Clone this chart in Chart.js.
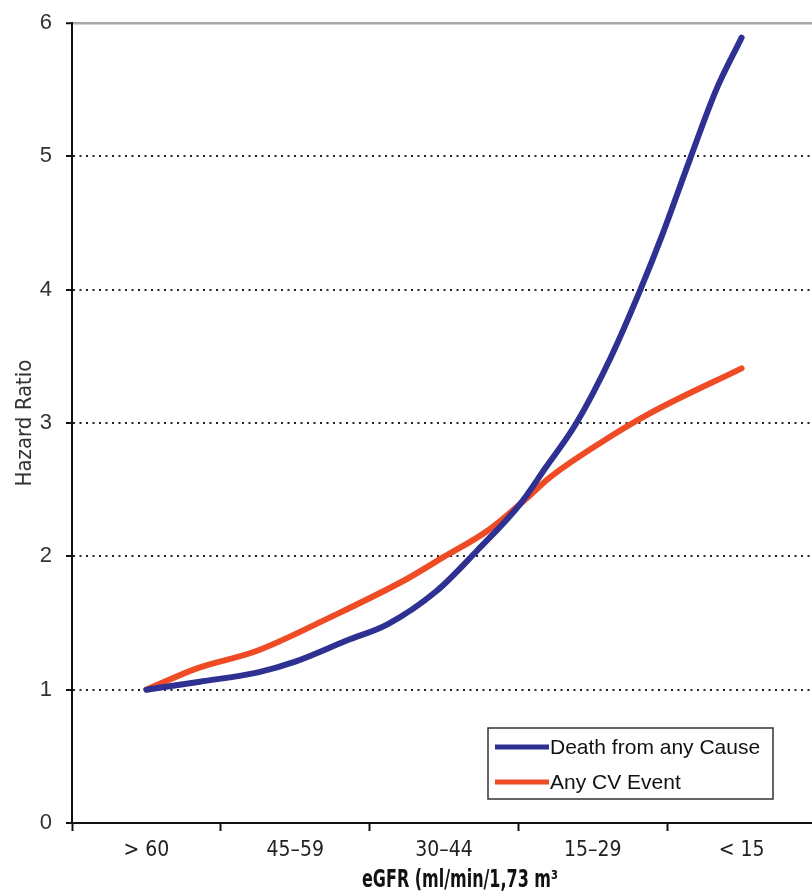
<!DOCTYPE html>
<html><head><meta charset="utf-8">
<script src="https://cdn.jsdelivr.net/npm/chart.js@4/dist/chart.umd.min.js"></script>
<style>
html,body{margin:0;padding:0;overflow:hidden;background:#fff}
#wrap{position:absolute;left:0;top:0;width:830px;height:895px}
</style>
</head><body>
<div id="wrap"><canvas id="c"></canvas></div>
<script>
// ---- data (x positions in category units: 0.5 = centre of first category) ----
const categories = ['> 60', '45–59', '30–44', '15–29', '< 15'];
const yTicks = [0, 1, 2, 3, 4, 5, 6];
const seriesNames = ['Death from any Cause', 'Any CV Event'];
const deathX  = [0.50, 0.86, 1.25, 1.50, 1.85, 2.12, 2.45, 2.72, 3.01, 3.18, 3.39, 3.62, 3.82, 3.97, 4.15, 4.33, 4.50];
const deathHR = [1.00, 1.06, 1.13, 1.21, 1.37, 1.49, 1.74, 2.04, 2.39, 2.66, 3.00, 3.49, 4.00, 4.42, 4.97, 5.50, 5.89];
const cvX  = [0.50, 0.84, 1.24, 1.73, 2.25, 2.49, 2.79, 3.06, 3.21, 3.55, 3.88, 4.50];
const cvHR = [1.00, 1.16, 1.29, 1.54, 1.83, 1.99, 2.19, 2.44, 2.59, 2.85, 3.07, 3.41];
const xTitle = 'eGFR (ml/min/1,73 m³';
const yTitle = 'Hazard Ratio';

const BLUE = '#2E3192', ORANGE = '#EF4B24';
const NARROW = '"Liberation Sans Narrow", "DejaVu Sans Condensed", "Liberation Sans", sans-serif';
const REG = '"Liberation Sans", Arial, sans-serif';

const toPts = (xs, ys) => xs.map((x, i) => ({x, y: ys[i]}));

const legendBox = {
  id: 'legendBox',
  afterDraw(chart) {
    const {ctx, chartArea: a} = chart;
    const w = 285, h = 71;
    const x = a.right - 43 - w, y = a.bottom - 24 - h;
    ctx.save();
    ctx.fillStyle = '#fff';
    ctx.fillRect(x, y, w, h);
    ctx.strokeStyle = '#333';
    ctx.lineWidth = 1.5;
    ctx.strokeRect(x, y, w, h);
    chart.data.datasets.forEach((ds, i) => {
      const cy = y + 19 + i * 35;
      ctx.strokeStyle = ds.borderColor;
      ctx.lineWidth = 5;
      ctx.beginPath();
      ctx.moveTo(x + 7, cy);
      ctx.lineTo(x + 61, cy);
      ctx.stroke();
      ctx.fillStyle = '#111';
      ctx.font = '21px ' + REG;
      ctx.textBaseline = 'middle';
      ctx.textAlign = 'left';
      ctx.fillText(ds.label, x + 62, cy + 1);
    });
    ctx.restore();
  }
};

const xTitlePlugin = {
  id: 'xTitlePlugin',
  afterDraw(chart) {
    const {ctx, chartArea: a} = chart;
    const cx = (a.left + a.right) / 2 + 16, cy = a.bottom + 58;
    ctx.save();
    ctx.translate(cx, cy);
    ctx.scale(0.74, 1);
    ctx.fillStyle = '#111';
    ctx.font = 'bold 24px ' + NARROW;
    ctx.textAlign = 'center';
    ctx.textBaseline = 'middle';
    ctx.fillText(xTitle, 0, 0);
    ctx.restore();
  }
};

new Chart(document.getElementById('c'), {
  type: 'line',
  data: {
    datasets: [
      {label: seriesNames[0], data: toPts(deathX, deathHR), borderColor: BLUE, backgroundColor: BLUE,
       borderWidth: 6, pointRadius: 0, cubicInterpolationMode: 'monotone', borderCapStyle: 'round', borderJoinStyle: 'round'},
      {label: seriesNames[1], data: toPts(cvX, cvHR), borderColor: ORANGE, backgroundColor: ORANGE,
       borderWidth: 6, pointRadius: 0, cubicInterpolationMode: 'monotone', borderCapStyle: 'round', borderJoinStyle: 'round'}
    ]
  },
  options: {
    responsive: true,
    maintainAspectRatio: false,
    animation: false,
    layout: {padding: {top: 23, right: 14, bottom: 0, left: 0}},
    plugins: {legend: {display: false}, tooltip: {enabled: false}},
    scales: {
      x: {
        type: 'linear', min: 0, max: categories.length,
        afterBuildTicks: s => {
          const t = [];
          for (let i = 0; i <= categories.length * 2; i++) t.push({value: i / 2});
          s.ticks = t;
        },
        afterFit: s => { s.height = 72; },
        ticks: {
          autoSkip: false, maxRotation: 0, padding: 7, color: '#222',
          font: {family: NARROW, size: 21},
          callback: v => (Math.abs(v % 1 - 0.5) < 1e-6) ? categories[Math.floor(v)] : ''
        },
        grid: {
          drawOnChartArea: false, tickLength: 8, tickWidth: 2,
          tickColor: c => (c.tick && Math.abs(c.tick.value % 1) < 1e-6) ? '#111' : 'rgba(0,0,0,0)'
        },
        border: {display: true, color: '#111', width: 2}
      },
      y: {
        min: 0, max: 6,
        afterBuildTicks: s => { s.ticks = yTicks.map(v => ({value: v})); },
        afterFit: s => { s.width = 72; s.paddingTop = 0; s.paddingBottom = 0; },
        ticks: {padding: 14, color: '#333', font: {family: REG, size: 22}},
        title: {display: true, text: yTitle, color: '#333', font: {family: NARROW, size: 22}, padding: {top: 12, bottom: 0}},
        grid: {
          color: c => !c.tick ? '#111' : (c.tick.value === 6 ? '#a8a8a8' : (c.tick.value === 0 ? 'rgba(0,0,0,0)' : '#222')),
          lineWidth: c => (c.tick && c.tick.value === 6) ? 2.5 : 2,
          tickColor: '#111', tickLength: 6, tickWidth: 2, tickBorderDash: []
        },
        border: {display: true, color: '#111', width: 2,
          dash: c => (c.tick && c.tick.value !== 6) ? [2, 4.5] : []}
      }
    }
  },
  plugins: [legendBox, xTitlePlugin]
});
</script>
</body></html>
